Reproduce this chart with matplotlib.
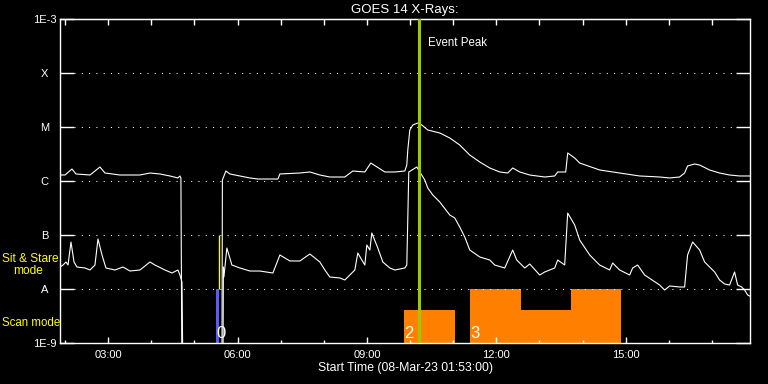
import numpy as np
import matplotlib
matplotlib.use('Agg')
import matplotlib.pyplot as plt
from matplotlib.ticker import FixedLocator, NullLocator

plt.rcParams['font.family'] = ['Liberation Sans', 'DejaVu Sans']

#############################################################
## Dados (horas decimais do dia 08-Mar-23, log10 do fluxo W/m2)
#############################################################
long_t = [1.883, 1.999, 2.161, 2.254, 2.579, 2.810, 2.926, 3.274, 3.737, 3.969,
          4.201, 4.433, 4.618, 4.664, 4.687, 4.711, 5.638, 5.649, 5.730, 5.823,
          6.055, 6.287, 6.472, 6.936, 6.982, 7.445, 7.677, 7.909, 8.140, 8.488,
          8.673, 8.952, 9.091, 9.415, 9.647, 9.879, 9.925, 9.948, 9.995, 10.064,
          10.180, 10.273, 10.412, 10.690, 10.922, 11.153, 11.385, 11.617, 11.849, 12.080,
          12.266, 12.381, 12.544, 12.776, 13.123, 13.355, 13.424, 13.610, 13.656, 13.818,
          13.934, 14.397, 14.861, 15.324, 15.788, 16.019, 16.251, 16.367, 16.436, 16.599,
          16.715, 16.947, 17.178, 17.410, 17.642, 17.874]
long_log = [-5.889, -5.889, -5.778, -5.870, -5.889, -5.741, -5.852, -5.889, -5.889, -5.852,
            -5.870, -5.907, -5.944, -5.907, -5.944, -9.6, -9.6, -5.981, -5.815, -5.870,
            -5.907, -5.944, -5.963, -5.963, -5.870, -5.852, -5.833, -5.889, -5.926, -5.926,
            -5.815, -5.833, -5.667, -5.833, -5.833, -5.815, -5.704, -5.426, -5.056, -4.963,
            -4.926, -4.963, -5.056, -5.111, -5.204, -5.333, -5.519, -5.648, -5.759, -5.833,
            -5.852, -5.759, -5.833, -5.889, -5.926, -5.907, -5.833, -5.833, -5.481, -5.574,
            -5.667, -5.796, -5.852, -5.907, -5.926, -5.944, -5.926, -5.852, -5.722, -5.685,
            -5.704, -5.796, -5.852, -5.889, -5.907, -5.907]

short_t = [1.883, 1.953, 2.022, 2.069, 2.138, 2.208, 2.277, 2.463, 2.579, 2.694,
           2.764, 2.857, 2.949, 3.158, 3.343, 3.506, 3.737, 3.853, 3.969, 4.085,
           4.317, 4.479, 4.618, 4.664, 4.711, 4.734, 5.661, 5.672, 5.684, 5.753,
           5.869, 6.055, 6.287, 6.518, 6.820, 6.982, 7.214, 7.445, 7.677, 7.909,
           8.025, 8.140, 8.372, 8.488, 8.604, 8.720, 8.789, 8.882, 8.952, 8.998,
           9.068, 9.114, 9.253, 9.369, 9.531, 9.647, 9.763, 9.879, 9.925, 9.971,
           10.157, 10.342, 10.412, 10.528, 10.690, 10.922, 11.037, 11.153, 11.269, 11.385,
           11.617, 11.849, 11.964, 12.196, 12.381, 12.474, 12.660, 12.776, 13.007, 13.123,
           13.355, 13.424, 13.586, 13.656, 13.818, 13.934, 14.166, 14.397, 14.629, 14.699,
           14.861, 15.093, 15.162, 15.278, 15.440, 15.788, 15.903, 16.019, 16.251, 16.367,
           16.436, 16.553, 16.715, 16.831, 17.063, 17.178, 17.294, 17.410, 17.526, 17.596,
           17.689, 17.758, 17.828, 17.874]
short_log = [-7.593, -7.556, -7.500, -7.556, -7.130, -7.500, -7.593, -7.611, -7.648, -7.556,
             -7.074, -7.370, -7.611, -7.648, -7.593, -7.667, -7.648, -7.574, -7.500, -7.556,
             -7.648, -7.704, -7.648, -7.741, -7.870, -9.6, -9.6, -7.593, -7.778, -7.241,
             -7.556, -7.611, -7.667, -7.667, -7.704, -7.370, -7.481, -7.481, -7.352, -7.500,
             -7.648, -7.778, -7.796, -7.833, -7.741, -7.648, -7.333, -7.463, -7.556, -7.185,
             -7.278, -6.963, -7.241, -7.500, -7.611, -7.648, -7.630, -7.611, -7.556, -5.833,
             -5.741, -5.981, -6.130, -6.259, -6.389, -6.630, -6.685, -6.852, -7.037, -7.278,
             -7.407, -7.463, -7.556, -7.611, -7.278, -7.463, -7.611, -7.537, -7.741, -7.685,
             -7.611, -7.463, -7.556, -6.593, -6.815, -7.093, -7.370, -7.556, -7.648, -7.519,
             -7.648, -7.741, -7.611, -7.556, -7.741, -7.926, -8.019, -7.944, -7.963, -7.963,
             -7.370, -7.130, -7.278, -7.500, -7.685, -7.833, -7.907, -7.926, -7.685, -7.926,
             -7.963, -8.019, -8.111, -8.130]

# Modos de observação
scan_ini = [9.856, 11.385, 12.567, 13.725]
scan_fim = [11.037, 12.567, 13.725, 14.884]
scan_topo = [-8.389, -8.0, -8.389, -8.0]
scan_rotulos = [(9.856, '2'), (11.385, '3')]
stare_ini, stare_fim, stare_topo = 5.498, 5.568, -8.0
stare_linha = (5.577, -7.0, -8.0)
evento_pico = 10.203

x_ini, x_fim = 1.8833, 17.8833
niveis = [1e-9, 1e-8, 1e-7, 1e-6, 1e-5, 1e-4, 1e-3]
niveis_rot = ['1E-9', 'A', 'B', 'C', 'M', 'X', '1E-3']
horas_rot = [3, 6, 9, 12, 15]

#############################################################
## Figura
#############################################################
fig = plt.figure(figsize=(7.68, 3.84), dpi=100, facecolor='black')
ax = fig.add_axes([60 / 768, 41 / 384, 690 / 768, 324 / 384])
ax.set_facecolor('black')
ax.set_yscale('log')
ax.set_xlim(x_ini, x_fim)
ax.set_ylim(1e-9, 1e-3)

# barras de modo
base = 1e-9
ax.bar(scan_ini, [10 ** v - base for v in scan_topo], bottom=base,
       width=[f - i for i, f in zip(scan_ini, scan_fim)], align='edge',
       color='#ff8000', linewidth=0, zorder=1)
ax.bar([stare_ini], [10 ** stare_topo - base], bottom=base, width=[stare_fim - stare_ini],
       align='edge', color='#5a5aff', linewidth=0, zorder=1)
ax.vlines(stare_linha[0], 10 ** stare_linha[2], 10 ** stare_linha[1], color='#ffff00', lw=1, zorder=2)
for t, s in scan_rotulos:
    ax.text(t + 0.01, 10 ** -8.815, s, color='white', fontsize=12, ha='left', va='center', zorder=5)
ax.text(stare_ini + 0.02, 10 ** -8.815, '0', color='white', fontsize=12, ha='left', va='center', zorder=5)

# grade pontilhada
for n in niveis[1:-1]:
    ax.axhline(n, xmin=14 / 690, xmax=1 - 14 / 690, color='white', lw=0.75,
               linestyle=(0, (1, 6)), zorder=1)

# curvas
ax.plot(long_t, 10 ** np.array(long_log), color='white', lw=0.8, zorder=3)
ax.plot(short_t, 10 ** np.array(short_log), color='white', lw=0.8, zorder=3)

# pico do evento
ax.axvline(evento_pico, color='#99cc00', lw=2.2, zorder=4)
ax.text(evento_pico + 0.22, 10 ** -3.44, 'Event Peak', color='white', fontsize=8.3,
        ha='left', va='center')

# eixos
for sp in ax.spines.values():
    sp.set_color('white')
    sp.set_linewidth(1)

ax.yaxis.set_major_locator(FixedLocator(niveis))
ax.yaxis.set_minor_locator(NullLocator())
ax.set_yticklabels(niveis_rot)
ax.tick_params(axis='y', which='major', direction='in', length=10, width=1, color='white',
               left=True, right=True, labelcolor='white', labelsize=8, pad=11)
for lab in ax.get_yticklabels():
    lab.set_horizontalalignment('center')

ax.xaxis.set_major_locator(FixedLocator(horas_rot))
ax.xaxis.set_minor_locator(FixedLocator(list(range(2, 18))))
ax.set_xticklabels(['%02d:00' % h for h in horas_rot])
ax.tick_params(axis='x', which='major', direction='in', length=4.3, width=1, color='white',
               labelcolor='white', labelsize=8, pad=5, top=False)
ax.tick_params(axis='x', which='minor', direction='in', length=2.2, width=1, color='white', top=False)

topo = ax.secondary_xaxis('top')
topo.xaxis.set_major_locator(FixedLocator(list(range(2, 18))))
topo.tick_params(direction='in', length=4.3, width=1, color='white', labeltop=False)
topo.spines['top'].set_color('white')

# textos
fig.text(405 / 768, 1 - 10 / 384, 'GOES 14 X-Rays:', color='white', fontsize=9.5, ha='center', va='center')
fig.text(405 / 768, 1 - 368 / 384, 'Start Time (08-Mar-23 01:53:00)', color='white', fontsize=8.8,
         ha='center', va='center')
fig.text(2 / 768, 1 - 259 / 384, 'Sit & Stare', color='#ffff00', fontsize=8.6, ha='left', va='center')
fig.text(13 / 768, 1 - 271 / 384, 'mode', color='#ffff00', fontsize=8.6, ha='left', va='center')
fig.text(2 / 768, 1 - 323 / 384, 'Scan mode', color='#ffff00', fontsize=8.3, ha='left', va='center')

fig.savefig('out.png', dpi=100, facecolor='black')
